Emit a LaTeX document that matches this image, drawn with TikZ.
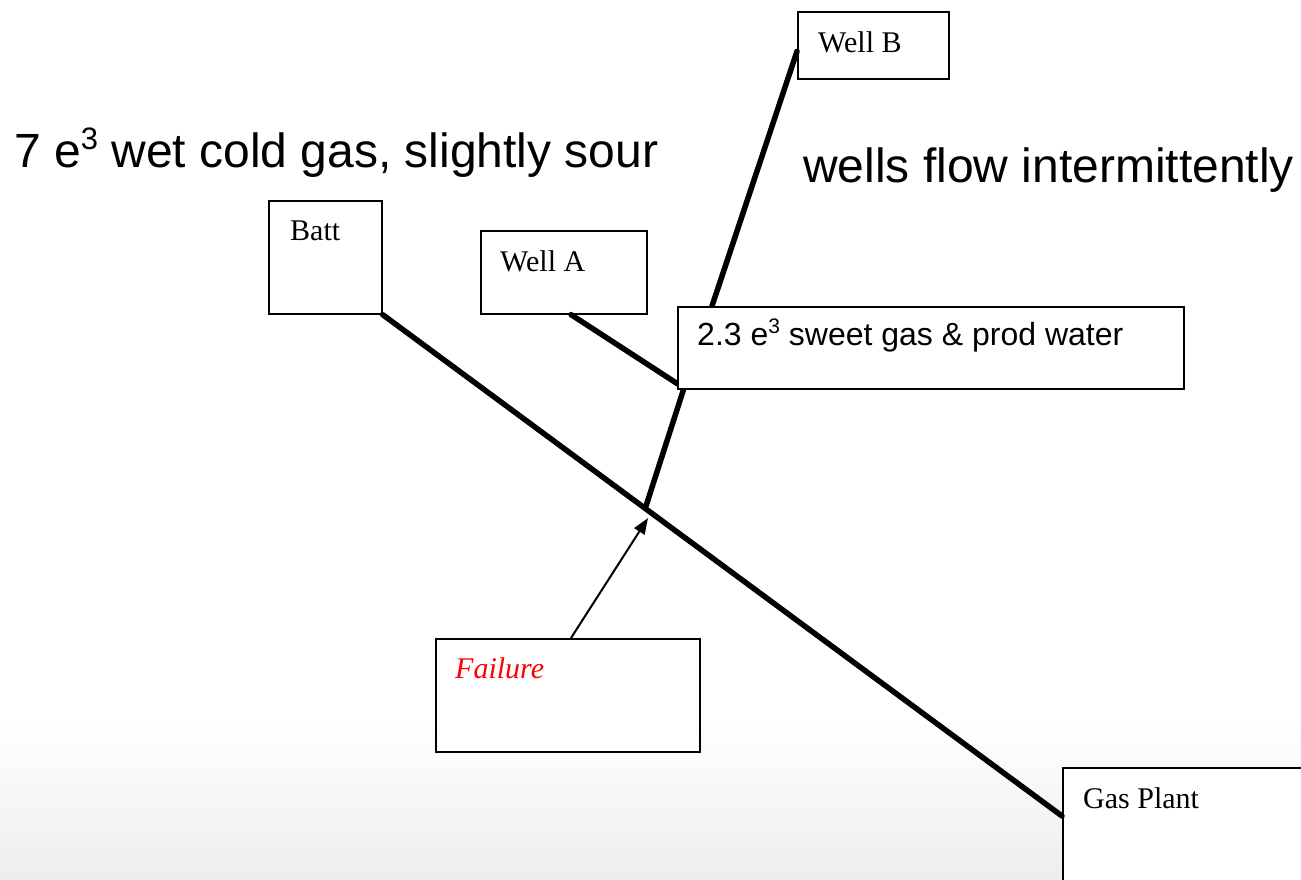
\documentclass[tikz,border=0pt]{standalone}
\usepackage{fontspec}
\setmainfont{Liberation Serif}
\newfontfamily\arialfont{Liberation Sans}
\usetikzlibrary{arrows.meta,calc}
\newcommand{\supthree}[1]{\raisebox{0.36em}{\fontsize{#1}{#1}\selectfont 3}}
\tikzset{
  boxnode/.style={draw=black, line width=1.6pt, fill=white, inner sep=0pt, anchor=north west},
  boxlabel/.style={anchor=base west, inner sep=0pt, font=\fontsize{30}{36}\selectfont},
  bigtext/.style={anchor=base west, inner sep=0pt, font=\arialfont\fontsize{48}{58}\selectfont},
  pipe/.style={line width=5.5pt, line cap=round},
  failarrow/.style={line width=2pt, -{Triangle[length=16pt,width=12pt]}}
}
\begin{document}
\begin{tikzpicture}[x=1pt,y=-1pt]
\useasboundingbox (0,0) rectangle (1301,879);
\clip (0,0) rectangle (1301,879);
\fill[white] (0,0) rectangle (1301,879);
\shade[top color=white, bottom color=black!7] (0,720) rectangle (1301,879);

% texts
\node[bigtext] (t1) at (14,167) {7 e\supthree{31} wet cold gas, slightly sour};
\node[bigtext] (t2) at (803,182) {wells flow intermittently};

% boxes
\node[boxnode, minimum width=113pt, minimum height=113pt] (batt) at (268,200) {};
\node[boxlabel] at (290,240) {Batt};
\node[boxnode, minimum width=166pt, minimum height=83pt] (wa) at (480,230) {};
\node[boxlabel] at (500,271) {Well A};
\node[boxnode, minimum width=151pt, minimum height=67pt] (wb) at (797,11) {};
\node[boxlabel] at (818,52) {Well B};
\node[boxnode, minimum width=264pt, minimum height=113pt] (fail) at (435,638) {};
\node[boxlabel, text=red, font=\itshape\fontsize{30}{36}\selectfont] at (455,678) {Failure};
\node[boxnode, minimum width=300pt, minimum height=200pt] (gp) at (1062,767) {};
\node[boxlabel] at (1083,808) {Gas Plant};

% junction coordinates
\coordinate (j) at (684,388);
\coordinate (tee) at (646,506);
\coordinate (hit) at (648,518);
\coordinate (gpin) at ([yshift=-49pt]gp.north west);

% pipes
\draw[pipe] (batt.south east) -- (gpin);
\draw[pipe] ([xshift=91pt]wa.south west) -- (j);
\draw[pipe] (j) -- (tee);

% sweet gas box (drawn after so that it covers line ends)
\draw[pipe] ([yshift=-6pt]wb.west) -- (712,306);
\node[boxnode, minimum width=506pt, minimum height=82pt] (sg) at (677,306) {};
\node[anchor=base west, inner sep=0pt, font=\arialfont\fontsize{32}{38}\selectfont] at (697,345) {2.3 e\supthree{21} sweet gas \& prod water};

% failure arrow
\draw[failarrow] ([xshift=136pt]fail.north west) -- (hit);
\end{tikzpicture}
\end{document}
